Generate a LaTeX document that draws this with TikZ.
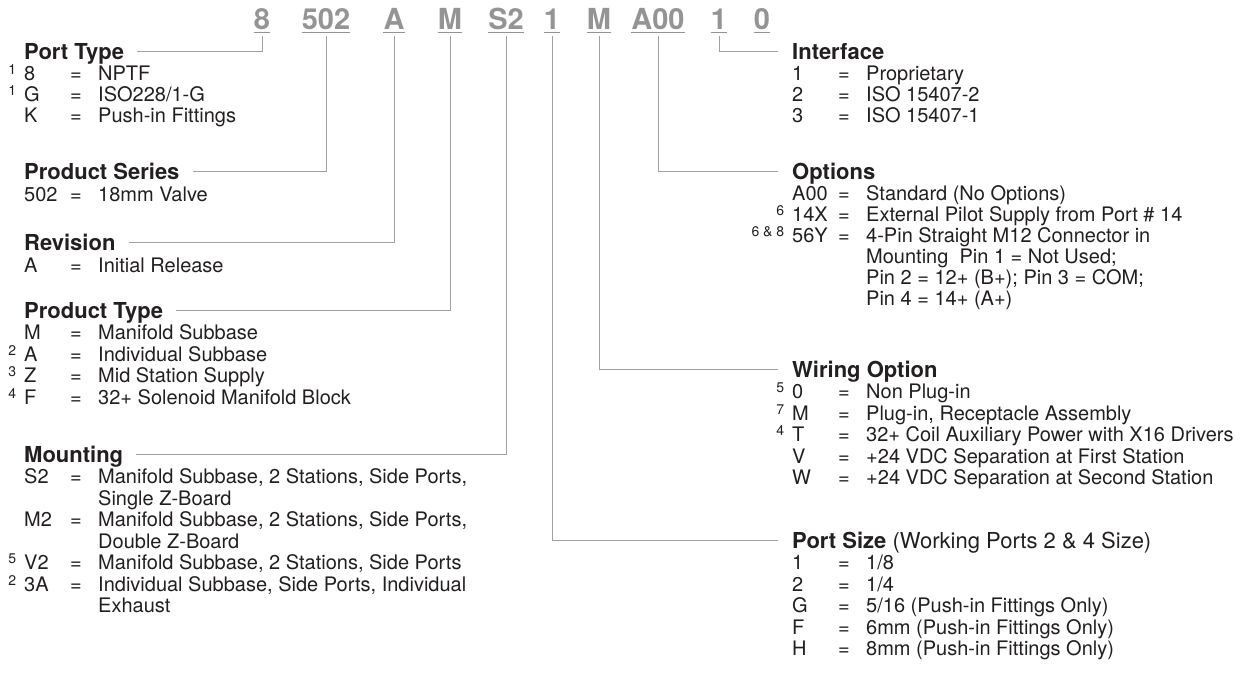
\documentclass[tikz,border=0pt]{standalone}
\usepackage{fontspec}
\setmainfont{TeX Gyre Heros}
\usepackage{tikz}

\definecolor{codegray}{RGB}{148,148,148}
\definecolor{linegray}{RGB}{160,160,160}
\definecolor{textblack}{RGB}{35,31,32}

% key = value in one row
\newcommand{\optrow}[2]{\makebox[46pt][l]{#1}\makebox[28pt][l]{=}#2}
% note number left of the key
\newcommand{\supnum}[1]{\llap{\fontsize{14}{14}\selectfont\raisebox{6pt}{#1}\hspace{8pt}}}

\tikzset{
  uline/.style={draw=codegray, line width=1.2pt},
  codebox/.style={font=\fontsize{29}{29}\selectfont\bfseries, text=codegray, anchor=base,
    inner xsep=0pt, inner ysep=3pt, text depth=0pt,
    append after command={(\tikzlastnode.south west) edge[uline] (\tikzlastnode.south east)}},
  headbox/.style={font=\fontsize{22}{22}\selectfont\bfseries, text=textblack, anchor=base west,
    inner sep=0pt, text height=15.8pt, text depth=0pt},
  entrybox/.style={font=\fontsize{20}{21.4}\selectfont, text=textblack, anchor=base west, inner sep=0pt},
  leader/.style={draw=linegray, line width=0.9pt, shorten <=4pt},
  leaderL/.style={leader, shorten >=13pt},
  leaderR/.style={leader, shorten >=14pt}
}

\begin{document}
\begin{tikzpicture}[x=1pt,y=-1pt]
\useasboundingbox (0,0) rectangle (1251,697);

% Bestellschluessel oben:
\node[codebox] (c8)   at (262,29) {8};
\node[codebox] (c502) at (326,29) {502};
\node[codebox] (cA)   at (394,29) {A};
\node[codebox] (cM)   at (450,29) {M};
\node[codebox] (cS2)  at (506,29) {S2};
\node[codebox] (c1)   at (552,29) {1};
\node[codebox] (cMw)  at (599,29) {M};
\node[codebox] (cA00) at (658,29) {A00};
\node[codebox] (c1i)  at (719,29) {1};
\node[codebox] (c0)   at (762,29) {0};

% linke Spalte:
\node[headbox] (porttype) at (24,59) {Port Type};
\node[entrybox] (pt1) at (24,80)  {\supnum{1}\optrow{8}{NPTF}};
\node[entrybox] (pt2) at (24,101) {\supnum{1}\optrow{G}{ISO228/1-G}};
\node[entrybox] (pt3) at (24,122) {\optrow{K}{Push-in Fittings}};

\node[headbox] (series) at (24,179) {Product Series};
\node[entrybox] (ps1) at (24,201) {\optrow{502}{18mm Valve}};

\node[headbox] (revision) at (24,250) {Revision};
\node[entrybox] (rv1) at (24,272) {\optrow{A}{Initial Release}};

\node[headbox] (ptype) at (24,318) {Product Type};
\node[entrybox] (ty1) at (24,339.5) {\optrow{M}{Manifold Subbase}};
\node[entrybox] (ty2) at (24,361)   {\supnum{2}\optrow{A}{Individual Subbase}};
\node[entrybox] (ty3) at (24,382.5) {\supnum{3}\optrow{Z}{Mid Station Supply}};
\node[entrybox] (ty4) at (24,404)   {\supnum{4}\optrow{F}{32+ Solenoid Manifold Block}};

\node[headbox] (mounting) at (24,462) {Mounting};
\node[entrybox] (mt1) at (24,483.5) {\optrow{S2}{Manifold Subbase, 2 Stations, Side Ports,}};
\node[entrybox] (mt1b) at (98,505)  {Single Z-Board};
\node[entrybox] (mt2) at (24,526.5) {\optrow{M2}{Manifold Subbase, 2 Stations, Side Ports,}};
\node[entrybox] (mt2b) at (98,548)  {Double Z-Board};
\node[entrybox] (mt3) at (24,569.5) {\supnum{5}\optrow{V2}{Manifold Subbase, 2 Stations, Side Ports}};
\node[entrybox] (mt4) at (24,591)   {\supnum{2}\optrow{3A}{Individual Subbase, Side Ports, Individual}};
\node[entrybox] (mt4b) at (98,612.5) {Exhaust};

% rechte Spalte:
\node[headbox] (interface) at (792,59) {Interface};
\node[entrybox] (if1) at (792,80)  {\optrow{1}{Proprietary}};
\node[entrybox] (if2) at (792,101) {\optrow{2}{ISO 15407-2}};
\node[entrybox] (if3) at (792,122) {\optrow{3}{ISO 15407-1}};

\node[headbox] (options) at (792,179) {Options};
\node[entrybox] (op1) at (792,200) {\optrow{A00}{Standard (No Options)}};
\node[entrybox] (op2) at (792,221) {\supnum{6}\optrow{14X}{External Pilot Supply from Port \# 14}};
\node[entrybox] (op3) at (792,242) {\supnum{6 \& 8}\optrow{56Y}{4-Pin Straight M12 Connector in}};
\node[entrybox] (op3b) at (866,263) {Mounting\ \ Pin 1 = Not Used;};
\node[entrybox] (op3c) at (866,284) {Pin 2 = 12+ (B+); Pin 3 = COM;};
\node[entrybox] (op3d) at (866,305) {Pin 4 = 14+ (A+)};

\node[headbox] (wiring) at (792,377) {Wiring Option};
\node[entrybox] (wo1) at (792,398.5) {\supnum{5}\optrow{0}{Non Plug-in}};
\node[entrybox] (wo2) at (792,420)   {\supnum{7}\optrow{M}{Plug-in, Receptacle Assembly}};
\node[entrybox] (wo3) at (792,441.5) {\supnum{4}\optrow{T}{32+ Coil Auxiliary Power with X16 Drivers}};
\node[entrybox] (wo4) at (792,463)   {\optrow{V}{+24 VDC Separation at First Station}};
\node[entrybox] (wo5) at (792,484.5) {\optrow{W}{+24 VDC Separation at Second Station}};

\node[headbox] (portsize) at (792,548) {Port Size{\mdseries\ (Working Ports 2 \& 4 Size)}};
\node[entrybox] (sz1) at (792,569.5) {\optrow{1}{1/8}};
\node[entrybox] (sz2) at (792,591)   {\optrow{2}{1/4}};
\node[entrybox] (sz3) at (792,612.5) {\optrow{G}{5/16 (Push-in Fittings Only)}};
\node[entrybox] (sz4) at (792,634)   {\optrow{F}{6mm (Push-in Fittings Only)}};
\node[entrybox] (sz5) at (792,655.5) {\optrow{H}{8mm (Push-in Fittings Only)}};

% Verbindungslinien:
\draw[leaderL] (c8.south)   |- (porttype.east);
\draw[leaderL] (c502.south) |- (series.east);
\draw[leaderL] (cA.south)   |- (revision.east);
\draw[leaderL] (cM.south)   |- (ptype.east);
\draw[leaderL] (cS2.south)  |- (mounting.east);
\draw[leaderR] (c1.south)   |- (portsize.west);
\draw[leaderR] (cMw.south)  |- (wiring.west);
\draw[leaderR] (cA00.south) |- (options.west);
\draw[leaderR] (c1i.south)  |- (interface.west);
\end{tikzpicture}
\end{document}
